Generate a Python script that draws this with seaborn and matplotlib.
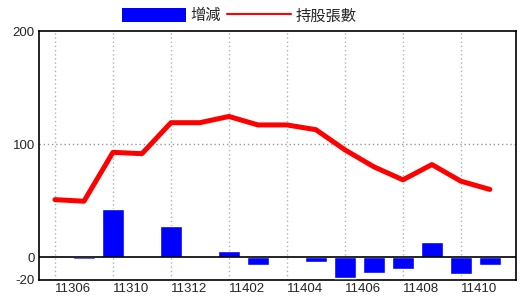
import matplotlib
matplotlib.use("Agg")
import matplotlib.pyplot as plt
import seaborn as sns
import pandas as pd
from matplotlib.patches import Patch
from matplotlib.lines import Line2D

months = ['11306', '11309', '11310', '11311', '11312', '11401', '11402', '11403',
          '11404', '11405', '11406', '11407', '11408', '11409', '11410', '11411']
holdings = [51, 49.6, 92.8, 91.6, 119, 119, 124.5, 117, 117, 112.8, 95, 80, 68.5, 82, 67.3, 60]
change = [0, -1.5, 43, 0, 27.4, 0, 5.5, -7, 0, -4, -18, -14, -10.5, 14, -14.7, -7]
tick_labels = ['11306', '11310', '11312', '11402', '11404', '11406', '11408', '11410']

df = pd.DataFrame({'month': months, 'holdings': holdings, 'change': change})
df['pos'] = range(len(df))

sns.set_style("white")
plt.rcParams['font.family'] = ['Noto Sans CJK TC', 'DejaVu Sans']

fig = plt.figure(figsize=(5.2, 3.0), dpi=100)
ax = fig.add_axes([39/520, 20/300, (516-39)/520, (280-31)/300])

sns.barplot(data=df, x='month', y='change', order=months, color='#0000ff',
            saturation=1, width=0.76, ax=ax, zorder=3)
sns.lineplot(data=df, x='pos', y='holdings', color='#ff0000', linewidth=3.6,
             ax=ax, zorder=4)

ax.set_xlim(-0.55, 15.9)
ax.set_ylim(-20, 200)
ax.set_yticks([-20, 0, 100, 200])
ax.set_yticklabels(['-20', '0', '100', '200'], fontsize=9.5, family='Liberation Sans')
grid_pos = list(range(0, 16, 2))
ax.set_xticks(grid_pos)
ax.set_xticklabels(tick_labels, fontsize=9.5, ha='left', family='Liberation Sans')
ax.tick_params(axis='both', length=0, pad=2)
ax.tick_params(axis='y', pad=3)
ax.set_xlabel('')
ax.set_ylabel('')

for p in grid_pos:
    ax.axvline(p, color='#a8b4c0', linestyle=(0, (1, 2)), linewidth=1, zorder=1)
ax.axhline(100, color='#999999', linestyle=(0, (1, 2)), linewidth=1, zorder=1)
ax.axhline(0, color='black', linewidth=1.2, zorder=5)

for s in ax.spines.values():
    s.set_visible(True)
    s.set_color('black')
    s.set_linewidth(1.2)

handles = [Patch(facecolor='#0000ff', edgecolor='none'),
           Line2D([0], [0], color='#ff0000', linewidth=1.5)]
fig.legend(handles, ['增減', '持股張數'], loc='center', bbox_to_anchor=(0.46, 0.947),
           ncol=2, frameon=False, fontsize=11, handlelength=4.2, handleheight=1.05,
           handletextpad=0.3, columnspacing=0.4, borderpad=0)

fig.savefig('out.png', dpi=100)
